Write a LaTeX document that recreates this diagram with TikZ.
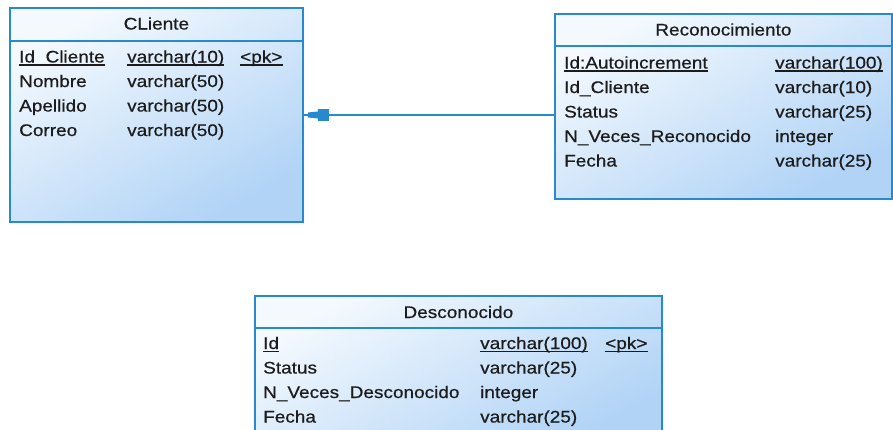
\documentclass[tikz,border=0pt]{standalone}
\usepackage{fontspec}
\setmainfont{Liberation Sans}[FakeStretch=1.13,FakeBold=0.6]
\usetikzlibrary{calc}
\definecolor{edgeblue}{RGB}{40,138,206}
\definecolor{fillhi}{RGB}{244,249,254}
\definecolor{filllo}{RGB}{176,211,246}
\definecolor{ink}{RGB}{28,28,28}
\newcommand\ulcell[3]{%
  \node[cell] (#1) at (#2) {#3};
  \draw[uline] ([yshift=-2.6pt]#1.base west) -- ([yshift=-2.6pt]#1.base east);}
\begin{document}
\begin{tikzpicture}[x=1pt,y=-1pt,
  tbl/.style={draw=edgeblue, line width=1.8pt, top color=fillhi, bottom color=filllo,
              shading angle=30, anchor=north west, inner sep=0pt},
  divider/.style={draw=edgeblue, line width=1.4pt},
  hdr/.style={text=ink, font=\fontsize{16.8}{20}\selectfont, inner sep=0pt},
  cell/.style={text=ink, font=\fontsize{16.8}{20}\selectfont, inner sep=0pt, anchor=base west},
  uline/.style={draw=ink, line width=1.4pt},
  conn/.style={draw=edgeblue, line width=1.5pt},
  tip/.style={fill=edgeblue},
]
\useasboundingbox (0,0) rectangle (893,429);

% ---- table boxes
\node[tbl, minimum width=293pt, minimum height=214pt] (cli) at (9,7) {};
\node[tbl, minimum width=337pt, minimum height=185pt] (rec) at (554,13) {};
\node[tbl, minimum width=407pt, minimum height=150pt] (des) at (254,295) {};

% ---- header separators
\draw[divider] ([yshift=-34pt]cli.north west) -- ([yshift=-34pt]cli.north east);
\draw[divider] ([yshift=-33pt]rec.north west) -- ([yshift=-33pt]rec.north east);
\draw[divider] ([yshift=-33pt]des.north west) -- ([yshift=-33pt]des.north east);

% ---- titles
\node[hdr] (clih) at ([yshift=-16.5pt]cli.north) {CLiente};
\node[hdr] (rech) at ([yshift=-16.5pt]rec.north) {Reconocimiento};
\node[hdr] (desh) at ([yshift=-17pt]des.north) {Desconocido};

% ---- CLiente columns
\ulcell{c1a}{19,62.5}{Id\_Cliente}
\ulcell{c1b}{127,62.5}{varchar(10)}
\ulcell{c1c}{240,62.5}{<pk>}
\node[cell] (c2a) at (19,87) {Nombre};
\node[cell] (c2b) at (127,87) {varchar(50)};
\node[cell] (c3a) at (19,111.5) {Apellido};
\node[cell] (c3b) at (127,111.5) {varchar(50)};
\node[cell] (c4a) at (19,136) {Correo};
\node[cell] (c4b) at (127,136) {varchar(50)};

% ---- Reconocimiento columns
\ulcell{r1a}{564,68.5}{Id:Autoincrement}
\ulcell{r1b}{775,68.5}{varchar(100)}
\node[cell] (r2a) at (564,93) {Id\_Cliente};
\node[cell] (r2b) at (775,93) {varchar(10)};
\node[cell] (r3a) at (564,117.5) {Status};
\node[cell] (r3b) at (775,117.5) {varchar(25)};
\node[cell] (r4a) at (564,142) {N\_Veces\_Reconocido};
\node[cell] (r4b) at (775,142) {integer};
\node[cell] (r5a) at (564,166.5) {Fecha};
\node[cell] (r5b) at (775,166.5) {varchar(25)};

% ---- Desconocido columns
\ulcell{d1a}{263,349}{Id}
\ulcell{d1b}{480,349}{varchar(100)}
\ulcell{d1c}{605,349}{<pk>}
\node[cell] (d2a) at (263,373.5) {Status};
\node[cell] (d2b) at (480,373.5) {varchar(25)};
\node[cell] (d3a) at (263,398) {N\_Veces\_Desconocido};
\node[cell] (d3b) at (480,398) {integer};
\node[cell] (d4a) at (263,422.5) {Fecha};
\node[cell] (d4b) at (480,422.5) {varchar(25)};

% ---- reference Reconocimiento -> CLiente
\coordinate (lvl) at (430,115);
\draw[conn] (rec.west |- lvl) -- (cli.east |- lvl);
\begin{scope}[shift={(cli.east |- lvl)}]
  \fill[tip] (4,-2.5) -- (14,-3.5) -- (14,-5.8) -- (25,-5.8) -- (25,5.8)
             -- (14,5.8) -- (14,3.5) -- (4,2.5) -- cycle;
\end{scope}
\end{tikzpicture}
\end{document}
